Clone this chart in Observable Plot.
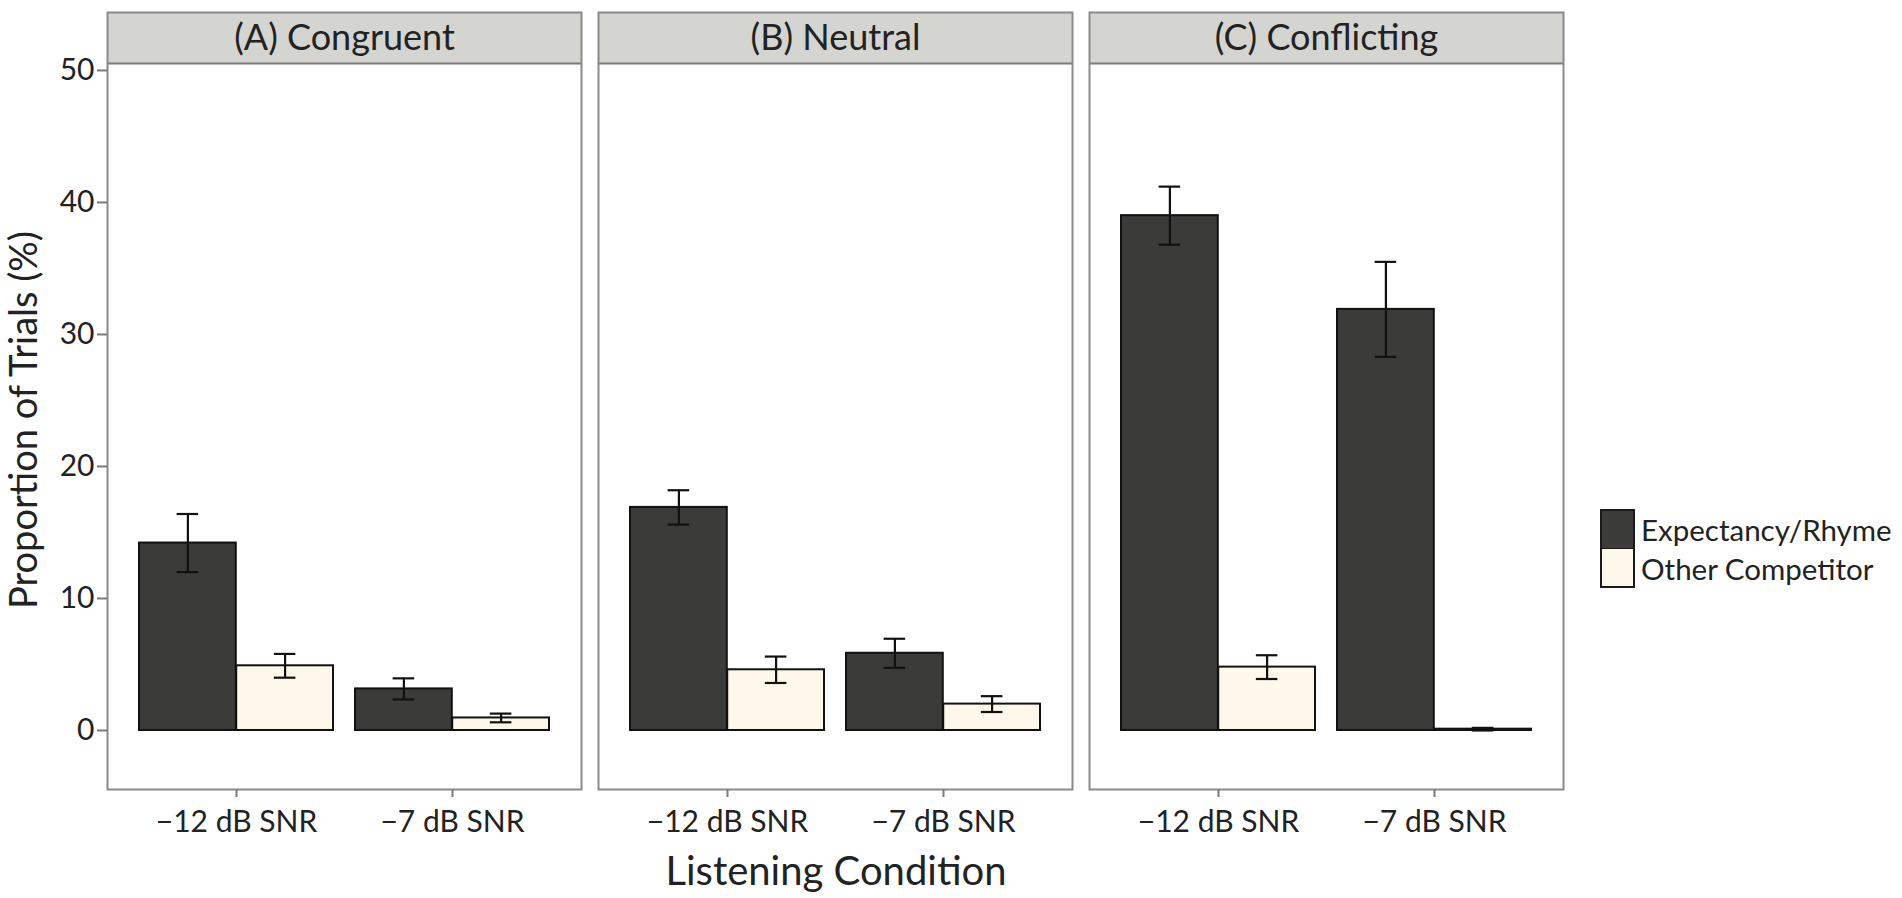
<!DOCTYPE html>
<html><head><meta charset="utf-8">
<script src="https://cdn.jsdelivr.net/npm/d3@7"></script>
<script src="https://cdn.jsdelivr.net/npm/@observablehq/plot@0.6"></script>
<style>
body{margin:0;background:#fff;font-family:Lato,"Open Sans",sans-serif;color:#222;}
#wrap{position:relative;width:1902px;height:898px;overflow:hidden;}
#wrap svg{position:absolute;left:0;top:0;}
.xtitle{position:absolute;left:836px;top:870px;transform:translate(-50%,-50%);font-size:40px;white-space:nowrap;}
.ytitle{position:absolute;left:22px;top:420px;transform:translate(-50%,-50%) rotate(-90deg);font-size:38px;white-space:nowrap;}
.legend{position:absolute;left:1600px;top:510px;}
.legend .row{display:flex;align-items:center;height:39px;}
.legend .key{width:31px;height:37px;border:2px solid #1a1a1a;box-sizing:content-box;margin-right:6px;}
.legend .row + .row .key{border-top:none;height:37px;}
.legend .lab{font-size:29.5px;line-height:1;white-space:nowrap;}
</style></head><body><div id="wrap"></div><script>
// ---- data ----
const panels = ["(A) Congruent", "(B) Neutral", "(C) Conflicting"];
const snrLevels = ["−12 dB SNR", "−7 dB SNR"];
const responseTypes = ["Expectancy/Rhyme", "Other Competitor"];
// order: panel A (−12, −7), panel B (−12, −7), panel C (−12, −7)
const expectancyMean = [14.2, 3.15, 16.9, 5.85, 39.0, 31.9];
const expectancyErr  = [2.2, 0.8, 1.3, 1.1, 2.2, 3.6];
const otherMean      = [4.9, 0.95, 4.6, 2.0, 4.8, 0.1];
const otherErr       = [0.9, 0.33, 1.0, 0.6, 0.9, 0.1];
const yTicks = [0, 10, 20, 30, 40, 50];

// ---- layout ----
const W = 1902, H = 898;
const marginLeft = 107, marginRight = 339, marginTop = 12, marginBottom = 109;
const yBottom = -4.47, panelTop = 50.53, stripTop = 54.39;
const panelW = 474, panelGap = 17;
const xPadInner = 0.1, xPadOuter = 0.147;
const step = panelW / (snrLevels.length - xPadInner + 2 * xPadOuter);
const bw = step * (1 - xPadInner);
const capHalf = 11;
const colors = {"Expectancy/Rhyme": "#3b3c3a", "Other Competitor": "#fdf8ea"};

const rows = [];
panels.forEach((p, pi) => snrLevels.forEach((s, si) => {
  const k = pi * snrLevels.length + si;
  rows.push({panel: p, snr: s, type: responseTypes[0], mean: expectancyMean[k], lo: expectancyMean[k] - expectancyErr[k], hi: expectancyMean[k] + expectancyErr[k]});
  rows.push({panel: p, snr: s, type: responseTypes[1], mean: otherMean[k], lo: Math.max(0, otherMean[k] - otherErr[k]), hi: otherMean[k] + otherErr[k]});
}));
const exp = rows.filter(d => d.type === responseTypes[0]);
const oth = rows.filter(d => d.type === responseTypes[1]);

const chart = Plot.plot({
  width: W, height: H,
  marginLeft, marginRight, marginTop, marginBottom,
  style: {fontFamily: "Lato, 'Open Sans', sans-serif", background: "transparent"},
  fx: {domain: panels, paddingInner: panelGap / (panelW + panelGap), paddingOuter: 0, axis: null, label: null},
  x: {domain: snrLevels, paddingInner: xPadInner, paddingOuter: xPadOuter, label: null},
  y: {domain: [yBottom, stripTop], label: null},
  marks: [
    Plot.rect([0], {y1: panelTop, y2: stripTop, fill: "#d4d4d0"}),
    Plot.ruleY([panelTop], {stroke: "#7a7a7a", strokeWidth: 2}),
    Plot.frame({stroke: "#8a8a8a", strokeWidth: 2}),
    Plot.barY(exp, {fx: "panel", x: "snr", y1: 0, y2: "mean", fill: colors[responseTypes[0]], stroke: "#111", strokeWidth: 2, insetRight: bw / 2}),
    Plot.barY(oth, {fx: "panel", x: "snr", y1: 0, y2: "mean", fill: colors[responseTypes[1]], stroke: "#111", strokeWidth: 2, insetLeft: bw / 2}),
    Plot.ruleX(exp, {fx: "panel", x: "snr", y1: "lo", y2: "hi", dx: -bw / 4, stroke: "#111", strokeWidth: 2.2}),
    Plot.ruleX(oth, {fx: "panel", x: "snr", y1: "lo", y2: "hi", dx: bw / 4, stroke: "#111", strokeWidth: 2.2}),
    Plot.tickY(exp, {fx: "panel", x: "snr", y: "hi", insetLeft: bw / 4 - capHalf, insetRight: 3 * bw / 4 - capHalf, stroke: "#111", strokeWidth: 2.2}),
    Plot.tickY(exp, {fx: "panel", x: "snr", y: "lo", insetLeft: bw / 4 - capHalf, insetRight: 3 * bw / 4 - capHalf, stroke: "#111", strokeWidth: 2.2}),
    Plot.tickY(oth, {fx: "panel", x: "snr", y: "hi", insetLeft: 3 * bw / 4 - capHalf, insetRight: bw / 4 - capHalf, stroke: "#111", strokeWidth: 2.2}),
    Plot.tickY(oth, {fx: "panel", x: "snr", y: "lo", insetLeft: 3 * bw / 4 - capHalf, insetRight: bw / 4 - capHalf, stroke: "#111", strokeWidth: 2.2}),
    Plot.text(panels, {fx: d => d, text: d => d, frameAnchor: "top", dy: 25.5, lineAnchor: "middle", fontSize: 36, fill: "#222"}),
    Plot.axisY(yTicks, {tickSize: 10, tickPadding: 3, fontSize: 30, stroke: "#7a7a7a", strokeWidth: 2, fill: "#222", label: null}),
    Plot.axisX({tickSize: 8, tickPadding: 13, fontSize: 30, stroke: "#7a7a7a", strokeWidth: 2, fill: "#222", label: null})
  ]
});
const wrap = document.getElementById("wrap");
wrap.appendChild(chart);

const xt = document.createElement("div"); xt.className = "xtitle"; xt.textContent = "Listening Condition"; wrap.appendChild(xt);
const yt = document.createElement("div"); yt.className = "ytitle"; yt.textContent = "Proportion of Trials (%)"; wrap.appendChild(yt);
const lg = document.createElement("div"); lg.className = "legend";
responseTypes.forEach(t => {
  const r = document.createElement("div"); r.className = "row";
  const k = document.createElement("div"); k.className = "key"; k.style.background = colors[t];
  const l = document.createElement("div"); l.className = "lab"; l.textContent = t;
  r.appendChild(k); r.appendChild(l); lg.appendChild(r);
});
wrap.appendChild(lg);
</script></body></html>
